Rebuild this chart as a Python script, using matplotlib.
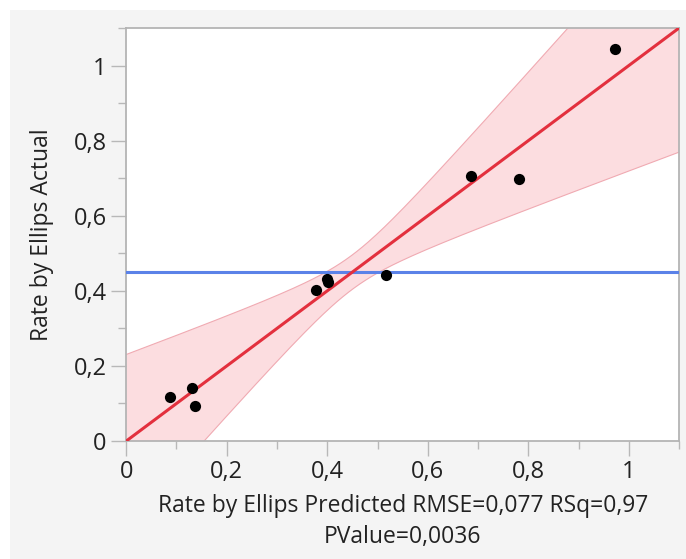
import numpy as np
import matplotlib.pyplot as plt
import matplotlib.patches as patches
from matplotlib.ticker import MultipleLocator, FuncFormatter

plt.rcParams['font.family'] = ['Open Sans', 'DejaVu Sans']

# values
predicted = [0.087, 0.131, 0.137, 0.378, 0.400, 0.401, 0.517, 0.686, 0.781, 0.972]
actual = [0.117, 0.141, 0.093, 0.402, 0.432, 0.424, 0.441, 0.705, 0.697, 1.045]
mean_actual = 0.449
# confidence band half width: sqrt(band_a + band_b * (x - mean)^2)
band_a = 0.0021
band_b = 0.253

fig = plt.figure(figsize=(6.86, 5.59), dpi=100, facecolor='white')
# light gray panel behind the plot
fig.add_artist(patches.Rectangle((10 / 686, 0), 1, 1 - 10 / 559, transform=fig.transFigure,
                                 facecolor='#f4f4f4', edgecolor='none', zorder=-1))
ax = fig.add_axes([0.184, 0.211, 0.806, 0.739])
ax.set_facecolor('white')

xs = np.linspace(0, 1.1, 200)
w = np.sqrt(band_a + band_b * (xs - np.mean(predicted)) ** 2)
ax.fill_between(xs, xs - w, xs + w, facecolor='#fcdde0', edgecolor='none', zorder=1)
ax.plot(xs, xs - w, color='#f0aab2', lw=0.8, zorder=2)
ax.plot(xs, xs + w, color='#f0aab2', lw=0.8, zorder=2)

ax.axhline(mean_actual, color='#5b82e8', lw=2.2, zorder=3)
ax.plot([0, 1.1], [0, 1.1], color='#e3303e', lw=2.2, zorder=4)
ax.scatter(predicted, actual, s=65, color='black', zorder=5, linewidths=0)

ax.set_xlim(0, 1.1)
ax.set_ylim(0, 1.1)

fmt = FuncFormatter(lambda v, p: ('%g' % round(v, 2)).replace('.', ','))
for axis in (ax.xaxis, ax.yaxis):
    axis.set_major_locator(MultipleLocator(0.2))
    axis.set_minor_locator(MultipleLocator(0.1))
    axis.set_major_formatter(fmt)

ax.tick_params(which='major', length=11, width=1, color='#b8b8b8', labelsize=17, labelcolor='#222222', pad=3)
ax.tick_params(which='minor', length=6, width=1, color='#b8b8b8')
for s in ax.spines.values():
    s.set_color('#b4b4b4')
    s.set_linewidth(1.3)

ax.set_xlabel('Rate by Ellips Predicted RMSE=0,077 RSq=0,97\nPValue=0,0036',
              fontsize=16.5, color='#222222', labelpad=7, linespacing=1.35)
ax.set_ylabel('Rate by Ellips Actual', fontsize=16.5, color='#222222', labelpad=14)

fig.savefig('out.png', dpi=100, facecolor=fig.get_facecolor())
